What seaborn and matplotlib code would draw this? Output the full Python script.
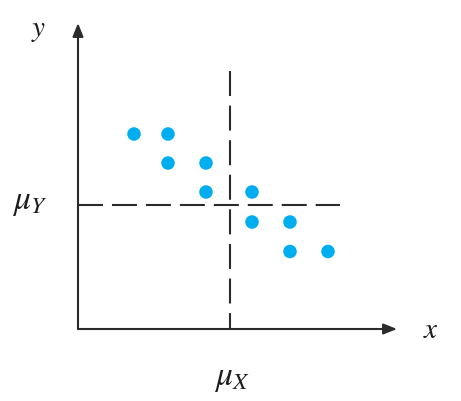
import matplotlib
matplotlib.use("Agg")
import matplotlib.pyplot as plt
import seaborn as sns
import pandas as pd

# data (arbitrary units; 1 unit ~ 10 px)
x_vals = [5.6, 9.0, 9.0, 12.8, 12.8, 17.4, 17.4, 21.2, 21.2, 25.0]
y_vals = [19.5, 19.5, 16.6, 16.6, 13.7, 13.7, 10.7, 10.7, 7.75, 7.75]
mu_x = 15.2
mu_y = 12.45
x_label = "$x$"
y_label = "$y$"
mux_label = r"$\mu_X$"
muy_label = r"$\mu_Y$"

sns.set_theme(style="white")
plt.rcParams["mathtext.fontset"] = "stix"

fig = plt.figure(figsize=(4.61, 4.02), dpi=100)
ax = fig.add_axes([0, 0, 1, 1])

axis_color = "#2b2b2b"
# axes with arrows
ax.annotate("", xy=(31.9, 0), xytext=(0, 0),
            arrowprops=dict(arrowstyle="-|>,head_length=0.5,head_width=0.2",
                            color=axis_color, lw=1.5,
                            mutation_scale=16, shrinkA=0, shrinkB=0))
ax.annotate("", xy=(0, 30.6), xytext=(0, 0),
            arrowprops=dict(arrowstyle="-|>,head_length=0.5,head_width=0.2",
                            color=axis_color, lw=1.5,
                            mutation_scale=16, shrinkA=0, shrinkB=0))

# dashed mean lines
ax.plot([0, 26.2], [mu_y, mu_y], color=axis_color, lw=1.5,
        linestyle=(0, (12, 4.3)))
ax.plot([mu_x, mu_x], [25.8, 0], color=axis_color, lw=1.5,
        linestyle=(0, (12, 4.6)))

df = pd.DataFrame({"x": x_vals, "y": y_vals})
sns.scatterplot(data=df, x="x", y="y", ax=ax, color="#00AEEF", s=95,
                edgecolor="none", zorder=5)
ax.set_xlim(-7.8, 38.3)
ax.set_ylim(-7.2, 33.0)
ax.axis("off")

tc = "#1c1c1c"
ax.text(-3.9, 30.0, y_label, fontsize=21, ha="center", va="center", color=tc)
ax.text(35.3, 0.0, x_label, fontsize=21, ha="center", va="center", color=tc)
ax.text(-4.8, mu_y + 0.4, muy_label, fontsize=24, ha="center", va="center", color=tc)
ax.text(mu_x + 0.2, -4.8, mux_label, fontsize=24, ha="center", va="center", color=tc)

fig.savefig("out.png", dpi=100)
